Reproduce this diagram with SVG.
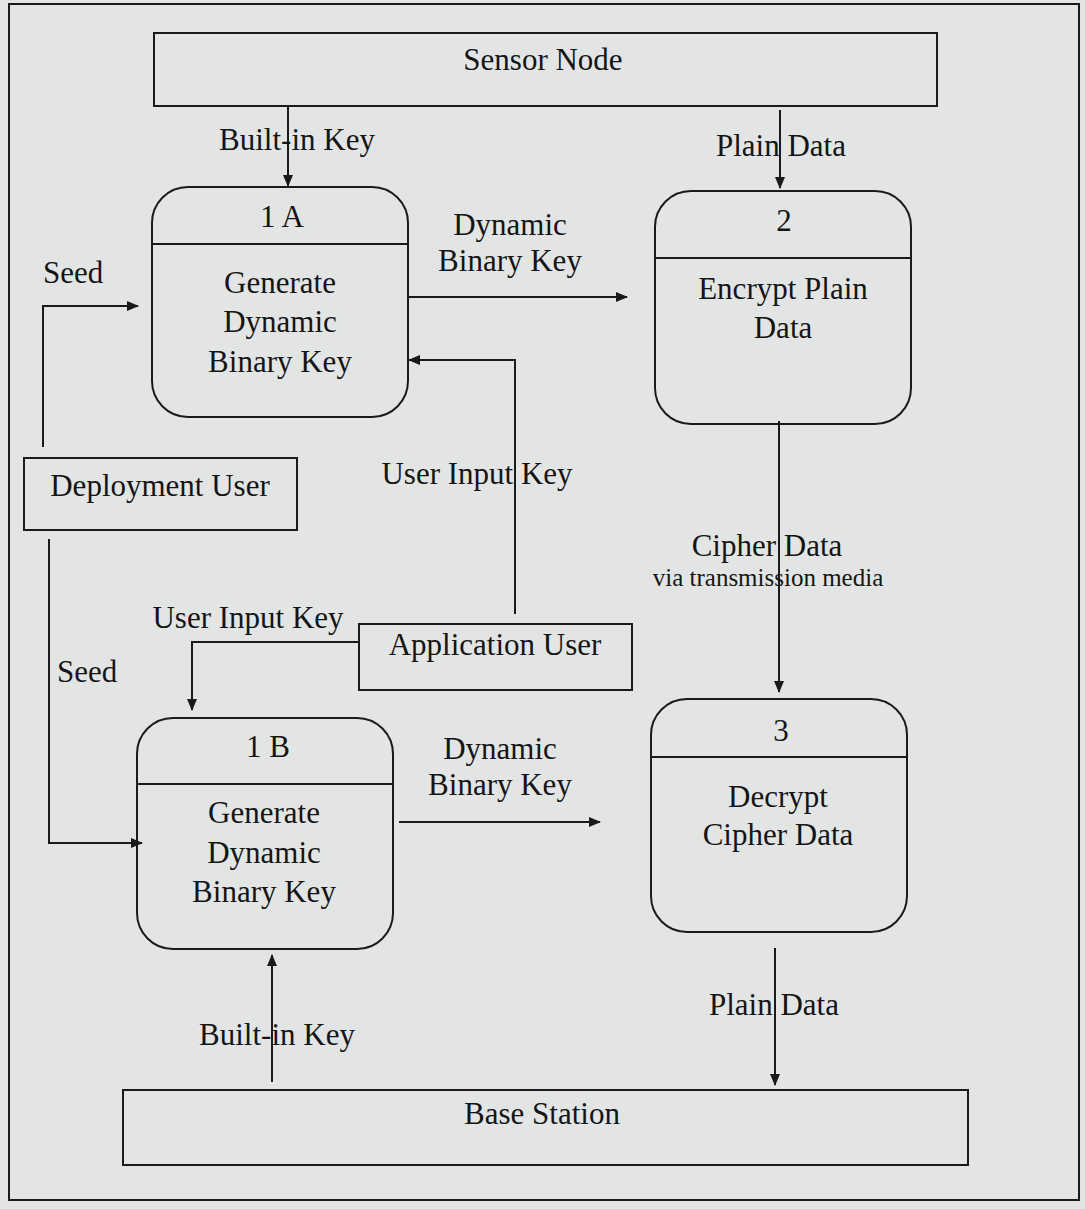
<svg xmlns="http://www.w3.org/2000/svg" width="1085" height="1209" viewBox="0 0 1085 1209">
<style>
text{font-family:"Liberation Serif","Times New Roman",serif;font-size:31px;fill:#151515;text-anchor:middle}
.s{font-size:25px}
.l{text-anchor:start}
.box{fill:none;stroke:#1a1a1a;stroke-width:2}
.c{fill:none;stroke:#1a1a1a;stroke-width:2}
</style>
<defs>
<marker id="ah" viewBox="0 0 12 10" refX="11" refY="5" markerWidth="12" markerHeight="10" markerUnits="userSpaceOnUse" orient="auto">
<path d="M0,0 L12,5 L0,10 Z" fill="#1a1a1a"/>
</marker>
</defs>
<rect width="1085" height="1209" fill="#e3e5e5"/>
<rect x="9" y="4" width="1070" height="1196" fill="none" stroke="#1a1a1a" stroke-width="2"/>

<g id="sensor-node">
<rect class="box" x="154" y="33" width="783" height="73"/>
<text x="543" y="70">Sensor Node</text>
</g>
<g id="p1a">
<rect class="box" x="152" y="187" width="256" height="230" rx="36"/>
<line class="box" x1="152" y1="244" x2="408" y2="244"/>
<text x="282" y="227">1 A</text>
<text x="280" y="293">Generate</text>
<text x="280" y="332">Dynamic</text>
<text x="280" y="372">Binary Key</text>
</g>
<g id="p2">
<rect class="box" x="655" y="191" width="256" height="233" rx="36"/>
<line class="box" x1="655" y1="258" x2="911" y2="258"/>
<text x="784" y="231">2</text>
<text x="783" y="299">Encrypt Plain</text>
<text x="783" y="338">Data</text>
</g>
<g id="deployment-user">
<rect class="box" x="24" y="458" width="273" height="72"/>
<text x="160" y="496">Deployment User</text>
</g>
<g id="application-user">
<rect class="box" x="359" y="624" width="273" height="66"/>
<text x="495" y="655">Application User</text>
</g>
<g id="p1b">
<rect class="box" x="137" y="718" width="256" height="231" rx="36"/>
<line class="box" x1="137" y1="784" x2="393" y2="784"/>
<text x="268" y="757">1 B</text>
<text x="264" y="823">Generate</text>
<text x="264" y="863">Dynamic</text>
<text x="264" y="902">Binary Key</text>
</g>
<g id="p3">
<rect class="box" x="651" y="699" width="256" height="233" rx="36"/>
<line class="box" x1="651" y1="757" x2="907" y2="757"/>
<text x="781" y="741">3</text>
<text x="778" y="807">Decrypt</text>
<text x="778" y="845">Cipher Data</text>
</g>
<g id="base-station">
<rect class="box" x="123" y="1090" width="845" height="75"/>
<text x="542" y="1124">Base Station</text>
</g>

<g id="connectors">
<path class="c" d="M288,106 V186" marker-end="url(#ah)"/>
<path class="c" d="M780,110 V188" marker-end="url(#ah)"/>
<path class="c" d="M408,297 H627" marker-end="url(#ah)"/>
<path class="c" d="M43,447 V306 H138" marker-end="url(#ah)"/>
<path class="c" d="M515,614 V360 H409" marker-end="url(#ah)"/>
<path class="c" d="M359,642 H192 V710" marker-end="url(#ah)"/>
<path class="c" d="M49,539 V843 H142" marker-end="url(#ah)"/>
<path class="c" d="M399,822 H600" marker-end="url(#ah)"/>
<path class="c" d="M779,421 V692" marker-end="url(#ah)"/>
<path class="c" d="M775,948 V1085" marker-end="url(#ah)"/>
<path class="c" d="M272,1082 V955" marker-end="url(#ah)"/>

<text x="297" y="150">Built-in Key</text>
<text x="781" y="156">Plain Data</text>
<text x="510" y="235">Dynamic</text>
<text x="510" y="271">Binary Key</text>
<text class="l" x="43" y="283">Seed</text>
<text x="477" y="484">User Input Key</text>
<text x="767" y="556">Cipher Data</text>
<text class="s" x="768" y="586">via transmission media</text>
<text x="248" y="628">User Input Key</text>
<text class="l" x="57" y="682">Seed</text>
<text x="500" y="759">Dynamic</text>
<text x="500" y="795">Binary Key</text>
<text x="774" y="1015">Plain Data</text>
<text x="277" y="1045">Built-in Key</text>
</g>
</svg>
